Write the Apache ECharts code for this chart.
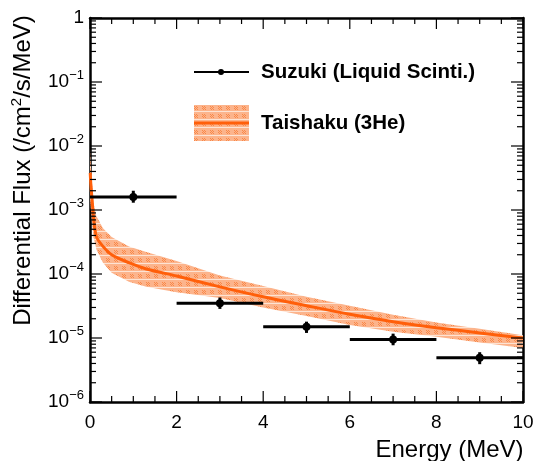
<!DOCTYPE html>
<html>
<head>
<meta charset="utf-8">
<script src="https://cdn.jsdelivr.net/npm/echarts@6/dist/echarts.min.js"></script>
<style>
html, body { margin: 0; padding: 0; background: #fff; }
#chart { width: 534px; height: 461px; }
</style>
</head>
<body>
<div id="chart"></div>
<script>
// Suzuki (liquid scintillator) points, 2 MeV bins
var binCenter = [1, 3, 5, 7, 9];
var binLow = [0, 2, 4, 6, 8];
var binHigh = [2, 4, 6, 8, 10];
var suzukiFlux = [1.6e-3, 3.5e-5, 1.5e-5, 9.5e-6, 4.9e-6];
var suzukiErrLow = [1.3e-3, 2.85e-5, 1.2e-5, 7.7e-6, 3.9e-6];
var suzukiErrHigh = [2.0e-3, 4.3e-5, 1.8e-5, 1.17e-5, 6.0e-6];

// Taishaku (3He) curve and band
var taiEnergy = [0.005, 0.02, 0.05, 0.08, 0.15, 0.3, 0.5, 0.9, 1.3, 2, 3, 4, 5, 6, 7, 8, 9, 10];
var taiFlux = [3.8e-3, 2.5e-3, 1.4e-3, 7.9e-4, 3.8e-4, 2.7e-4, 2.0e-4, 1.5e-4, 1.2e-4, 9.3e-5, 6.3e-5, 4.4e-5, 3.2e-5, 2.35e-5, 1.8e-5, 1.45e-5, 1.2e-5, 1.0e-5];
var bandEnergy = [0, 0.02, 0.05, 0.08, 0.15, 0.3, 0.5, 0.9, 1.3, 2, 3, 4, 5, 6, 7, 8, 9, 10];
var bandUp = [9e-3, 5e-3, 2.5e-3, 1.3e-3, 8e-4, 5.2e-4, 3.8e-4, 2.7e-4, 2.2e-4, 1.6e-4, 9.5e-5, 6.5e-5, 4.4e-5, 3.2e-5, 2.3e-5, 1.75e-5, 1.4e-5, 1.1e-5];
var bandLow = [1.5e-3, 1e-3, 6e-4, 3.8e-4, 2.4e-4, 1.5e-4, 1.05e-4, 7.6e-5, 6.3e-5, 5.2e-5, 4.2e-5, 3.0e-5, 2.2e-5, 1.6e-5, 1.25e-5, 1.05e-5, 8.5e-6, 7e-6];

// tick positions (root style, on all four sides)
var xMajorTicks = [0, 2, 4, 6, 8, 10];
var xMinorTicks = [0.5, 1, 1.5, 2.5, 3, 3.5, 4.5, 5, 5.5, 6.5, 7, 7.5, 8.5, 9, 9.5];
var yMajorTicks = [1e-6, 1e-5, 1e-4, 1e-3, 1e-2, 1e-1, 1];
var yMinorSteps = [2, 3, 4, 5, 6, 7, 8, 9];

var font = 'Liberation Sans';
var orange = '#ff5f0a';

// hatched fill like the root plot
var pat = document.createElement('canvas');
pat.width = 8; pat.height = 8;
var g = pat.getContext('2d');
g.fillStyle = '#fcb48c';
g.fillRect(0, 0, 8, 8);
g.fillStyle = '#f9894a';
for (var i = 0; i < 8; i++) {
    for (var j = 0; j < 8; j++) {
        if ((i + j) % 2 == 0 && j > 1 && j < 6 && i > 1 && i < 6) g.fillRect(i, j, 1, 1);
    }
}
g.fillStyle = '#fde3d3';
g.fillRect(0, 7, 8, 1);
var hatch = { image: pat, repeat: 'repeat' };

var errData = [];
for (var k = 0; k < binCenter.length; k++) {
    errData.push([binCenter[k], suzukiFlux[k], binLow[k], binHigh[k], suzukiErrLow[k], suzukiErrHigh[k]]);
}
var lineData = taiEnergy.map(function (e, idx) { return [e, taiFlux[idx]]; });

function renderErr(params, api) {
    var c = api.coord([api.value(0), api.value(1)]);
    var l = api.coord([api.value(2), api.value(1)]);
    var r = api.coord([api.value(3), api.value(1)]);
    var lo = api.coord([api.value(0), api.value(4)]);
    var hi = api.coord([api.value(0), api.value(5)]);
    return {
        type: 'group',
        children: [
            { type: 'line', shape: { x1: l[0], y1: l[1], x2: r[0], y2: r[1] }, style: { stroke: '#000', lineWidth: 3 } },
            { type: 'line', shape: { x1: lo[0], y1: lo[1], x2: hi[0], y2: hi[1] }, style: { stroke: '#000', lineWidth: 3 } },
            { type: 'circle', shape: { cx: c[0], cy: c[1], r: 4 }, style: { fill: '#000' } }
        ]
    };
}

function renderBand(params, api) {
    var pts = [];
    for (var n = 0; n < bandEnergy.length; n++) pts.push(api.coord([bandEnergy[n], bandUp[n]]));
    for (var m = bandEnergy.length - 1; m >= 0; m--) pts.push(api.coord([bandEnergy[m], bandLow[m]]));
    return { type: 'polygon', shape: { points: pts }, style: { fill: hatch } };
}

function renderTicks(params, api) {
    var lb = api.coord([0, 1e-6]);
    var rt = api.coord([10, 1]);
    var kids = [];
    function seg(x1, y1, x2, y2) {
        kids.push({ type: 'line', shape: { x1: x1, y1: y1, x2: x2, y2: y2 }, style: { stroke: '#000', lineWidth: 1.2 } });
    }
    function xt(v, len) {
        var p = api.coord([v, 1e-6])[0];
        seg(p, lb[1], p, lb[1] - len);
        seg(p, rt[1], p, rt[1] + len);
    }
    function yt(v, len) {
        var p = api.coord([0, v])[1];
        seg(lb[0], p, lb[0] + len, p);
        seg(rt[0], p, rt[0] - len, p);
    }
    xMajorTicks.forEach(function (v) { xt(v, 11); });
    xMinorTicks.forEach(function (v) { xt(v, 6); });
    yMajorTicks.forEach(function (v) { yt(v, 12); });
    yMajorTicks.slice(0, -1).forEach(function (d) {
        yMinorSteps.forEach(function (s) { yt(d * s, 6); });
    });
    return { type: 'group', children: kids };
}

function yLabel(v) {
    var p = Math.round(Math.log10(v));
    if (p == 0) return '{b|1}';
    return '{b|10}{s|\u2212' + (-p) + '}';
}

function frameLine() {
    return { show: true, onZero: false, lineStyle: { color: '#000', width: 2.5 } };
}

var chart = echarts.init(document.getElementById('chart'));
var option = {
    animation: false,
    textStyle: { fontFamily: font },
    grid: { left: 90, right: 11, top: 18, bottom: 59, outerBoundsMode: 'none' },
    xAxis: [
        {
            type: 'value', min: 0, max: 10, interval: 2,
            axisLine: frameLine(),
            axisTick: { show: false },
            splitLine: { show: false },
            axisLabel: { color: '#000', fontSize: 19, margin: 11, fontFamily: font },
            name: 'Energy (MeV)',
            nameLocation: 'middle',
            nameGap: 36,
            nameTextStyle: { color: '#000', fontSize: 24, fontFamily: font, padding: [0, 0, 0, 286] }
        },
        {
            type: 'value', min: 0, max: 10, interval: 2, position: 'top',
            axisLine: frameLine(),
            axisTick: { show: false },
            splitLine: { show: false },
            axisLabel: { show: false }
        }
    ],
    yAxis: [
        {
            type: 'log', min: 1e-6, max: 1, logBase: 10, splitNumber: 6,
            axisLine: frameLine(),
            axisTick: { show: false },
            splitLine: { show: false },
            axisLabel: {
                color: '#000', margin: 6, formatter: yLabel,
                rich: {
                    b: { fontSize: 19, fontFamily: font, color: '#000' },
                    s: { fontSize: 13, fontFamily: font, color: '#000', padding: [0, 0, 14, 0] }
                }
            },
            name: 'Differential Flux (/cm{sup|2}/s/MeV)',
            nameLocation: 'middle',
            nameGap: 52,
            nameTextStyle: {
                color: '#000', fontSize: 24, fontFamily: font, padding: [0, 0, 0, 79],
                rich: { sup: { fontSize: 15, fontFamily: font, color: '#000', padding: [0, 0, 14, 0] } }
            }
        },
        {
            type: 'log', min: 1e-6, max: 1, logBase: 10, splitNumber: 6, position: 'right',
            axisLine: frameLine(),
            axisTick: { show: false },
            splitLine: { show: false },
            axisLabel: { show: false }
        }
    ],
    series: [
        {
            name: 'band', type: 'custom', renderItem: renderBand,
            data: [[5, 1e-4]], encode: { x: 0, y: 1 }, clip: true, silent: true, z: 1
        },
        {
            name: 'Taishaku (3He)', type: 'line', data: lineData, showSymbol: false, smooth: 0.3,
            lineStyle: { color: orange, width: 3 }, z: 2
        },
        {
            name: 'Suzuki (Liquid Scinti.)', type: 'custom', renderItem: renderErr,
            data: errData, encode: { x: 0, y: 1 }, clip: false, z: 3
        },
        {
            name: 'ticks', type: 'custom', renderItem: renderTicks,
            data: [[5, 1e-3]], encode: { x: 0, y: 1 }, clip: false, silent: true, z: 4
        }
    ],
    graphic: [
        { type: 'line', shape: { x1: 194, y1: 72, x2: 249, y2: 72 }, style: { stroke: '#000', lineWidth: 2 } },
        { type: 'circle', shape: { cx: 221, cy: 72, r: 3 }, style: { fill: '#000' } },
        { type: 'text', x: 261, y: 72, style: { text: 'Suzuki (Liquid Scinti.)', font: 'bold 20.5px "Liberation Sans"', fill: '#000', verticalAlign: 'middle' } },
        { type: 'rect', shape: { x: 194, y: 105, width: 55, height: 36 }, style: { fill: hatch } },
        { type: 'line', shape: { x1: 194, y1: 123, x2: 249, y2: 123 }, style: { stroke: orange, lineWidth: 3 } },
        { type: 'text', x: 261, y: 123, style: { text: 'Taishaku (3He)', font: 'bold 20.5px "Liberation Sans"', fill: '#000', verticalAlign: 'middle' } }
    ]
};
chart.setOption(option);
</script>
</body>
</html>
